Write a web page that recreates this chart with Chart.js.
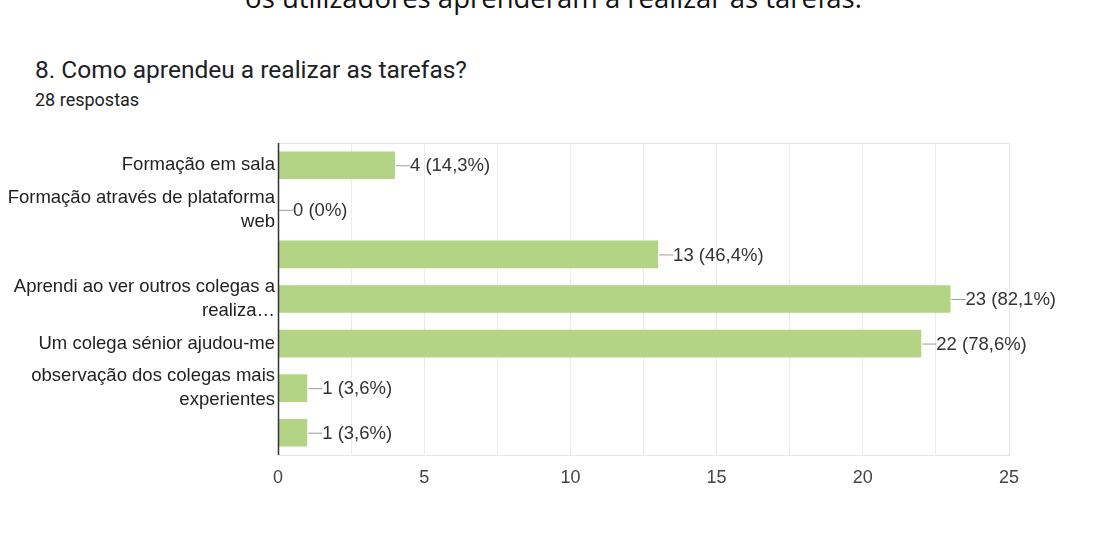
<!DOCTYPE html>
<html>
<head>
<meta charset="utf-8">
<script src="https://cdn.jsdelivr.net/npm/chart.js@4.4.1/dist/chart.umd.min.js"></script>
<style>
  html, body { margin: 0; padding: 0; background: #fff; }
  #wrap { position: relative; width: 1107px; height: 540px; overflow: hidden; }
  #caption { position: absolute; left: 0; width: 1107px; top: -16px; text-align: center;
             font-family: "Open Sans", sans-serif; font-size: 27.5px; line-height: 27px; color: #111; white-space: nowrap; }
  #title { position: absolute; left: 35px; top: 55px; font-family: Roboto, sans-serif; font-size: 24.5px; color: #202124; }
  #sub { position: absolute; left: 35px; top: 89px; font-family: Roboto, sans-serif; font-size: 18px; color: #202124; }
  canvas { position: absolute; left: 0; top: 0; }
</style>
</head>
<body>
<div id="wrap">
  <div id="caption">os utilizadores aprenderam a realizar as tarefas.</div>
  <div id="title">8. Como aprendeu a realizar as tarefas?</div>
  <div id="sub">28 respostas</div>
  <canvas id="c" width="1107" height="540"></canvas>
</div>
<script>
// Answer options (multi-line where the label wraps)
const categories = [
  "Formação em sala",
  ["Formação através de plataforma", "web"],
  "",
  ["Aprendi ao ver outros colegas a", "realiza…"],
  "Um colega sénior ajudou-me",
  ["observação dos colegas mais", "experientes"],
  ""
];
const counts = [4, 0, 13, 23, 22, 1, 1];
const percents = ["14,3%", "0%", "46,4%", "82,1%", "78,6%", "3,6%", "3,6%"];
const axisTicks = [0, 5, 10, 15, 20, 25];

const PLOT_LEFT = 278, PLOT_RIGHT = 1009, PLOT_TOP = 143, PLOT_BOTTOM = 455;
const LABEL_FONT = '"Liberation Sans", Arial, sans-serif';

// Frame around the plot area and the dark baseline at zero
const framePlugin = {
  id: 'frame',
  beforeDatasetsDraw(chart) {
    const { ctx, chartArea: a } = chart;
    ctx.save();
    ctx.strokeStyle = '#e6e6e6';
    ctx.lineWidth = 1;
    ctx.strokeRect(a.left + 0.5, a.top + 0.5, a.right - a.left, a.bottom - a.top);
    ctx.restore();
  },
  afterDatasetsDraw(chart) {
    const { ctx, chartArea: a } = chart;
    ctx.save();
    ctx.strokeStyle = '#333';
    ctx.lineWidth = 1.5;
    ctx.beginPath();
    ctx.moveTo(a.left + 0.5, a.top);
    ctx.lineTo(a.left + 0.5, a.bottom);
    ctx.stroke();
    ctx.restore();
  }
};

// Leader line plus "count (percent)" at the end of each bar
const valueLabels = {
  id: 'valueLabels',
  afterDatasetsDraw(chart) {
    const { ctx } = chart;
    const meta = chart.getDatasetMeta(0);
    ctx.save();
    ctx.font = '18.5px ' + LABEL_FONT;
    ctx.textBaseline = 'middle';
    meta.data.forEach((bar, i) => {
      const x = bar.x + 1;
      const y = bar.y;
      ctx.strokeStyle = '#9e9e9e';
      ctx.lineWidth = 1;
      ctx.beginPath();
      ctx.moveTo(x, y + 0.5);
      ctx.lineTo(x + 14, y + 0.5);
      ctx.stroke();
      ctx.fillStyle = '#333';
      ctx.textAlign = 'left';
      ctx.fillText(counts[i] + ' (' + percents[i] + ')', x + 14, y + 1);
    });
    ctx.restore();
  }
};

new Chart(document.getElementById('c'), {
  type: 'bar',
  data: {
    labels: categories,
    datasets: [{
      data: counts,
      backgroundColor: '#b3d385',
      borderWidth: 0,
      barPercentage: 0.62,
      categoryPercentage: 1.0
    }]
  },
  options: {
    indexAxis: 'y',
    responsive: false,
    animation: false,
    layout: { padding: { left: 0, right: 1107 - PLOT_RIGHT, top: PLOT_TOP, bottom: 0 } },
    plugins: { legend: { display: false }, tooltip: { enabled: false } },
    scales: {
      x: {
        min: 0, max: 25,
        border: { display: false },
        grid: { color: '#ececec', drawTicks: false, lineWidth: 1 },
        ticks: {
          stepSize: 2.5,
          padding: 12,
          color: '#444',
          autoSkip: false,
          maxRotation: 0,
          font: { family: LABEL_FONT, size: 18 },
          callback: v => axisTicks.includes(v) ? String(v) : ''
        },
        afterFit(scale) { scale.height = 540 - PLOT_BOTTOM; }
      },
      y: {
        border: { display: false },
        grid: { display: false, drawTicks: false },
        ticks: {
          padding: 3,
          color: '#222',
          autoSkip: false,
          font: { family: LABEL_FONT, size: 18.5, lineHeight: 1.3 }
        },
        afterFit(scale) { scale.width = PLOT_LEFT; }
      }
    }
  },
  plugins: [framePlugin, valueLabels]
});
</script>
</body>
</html>
